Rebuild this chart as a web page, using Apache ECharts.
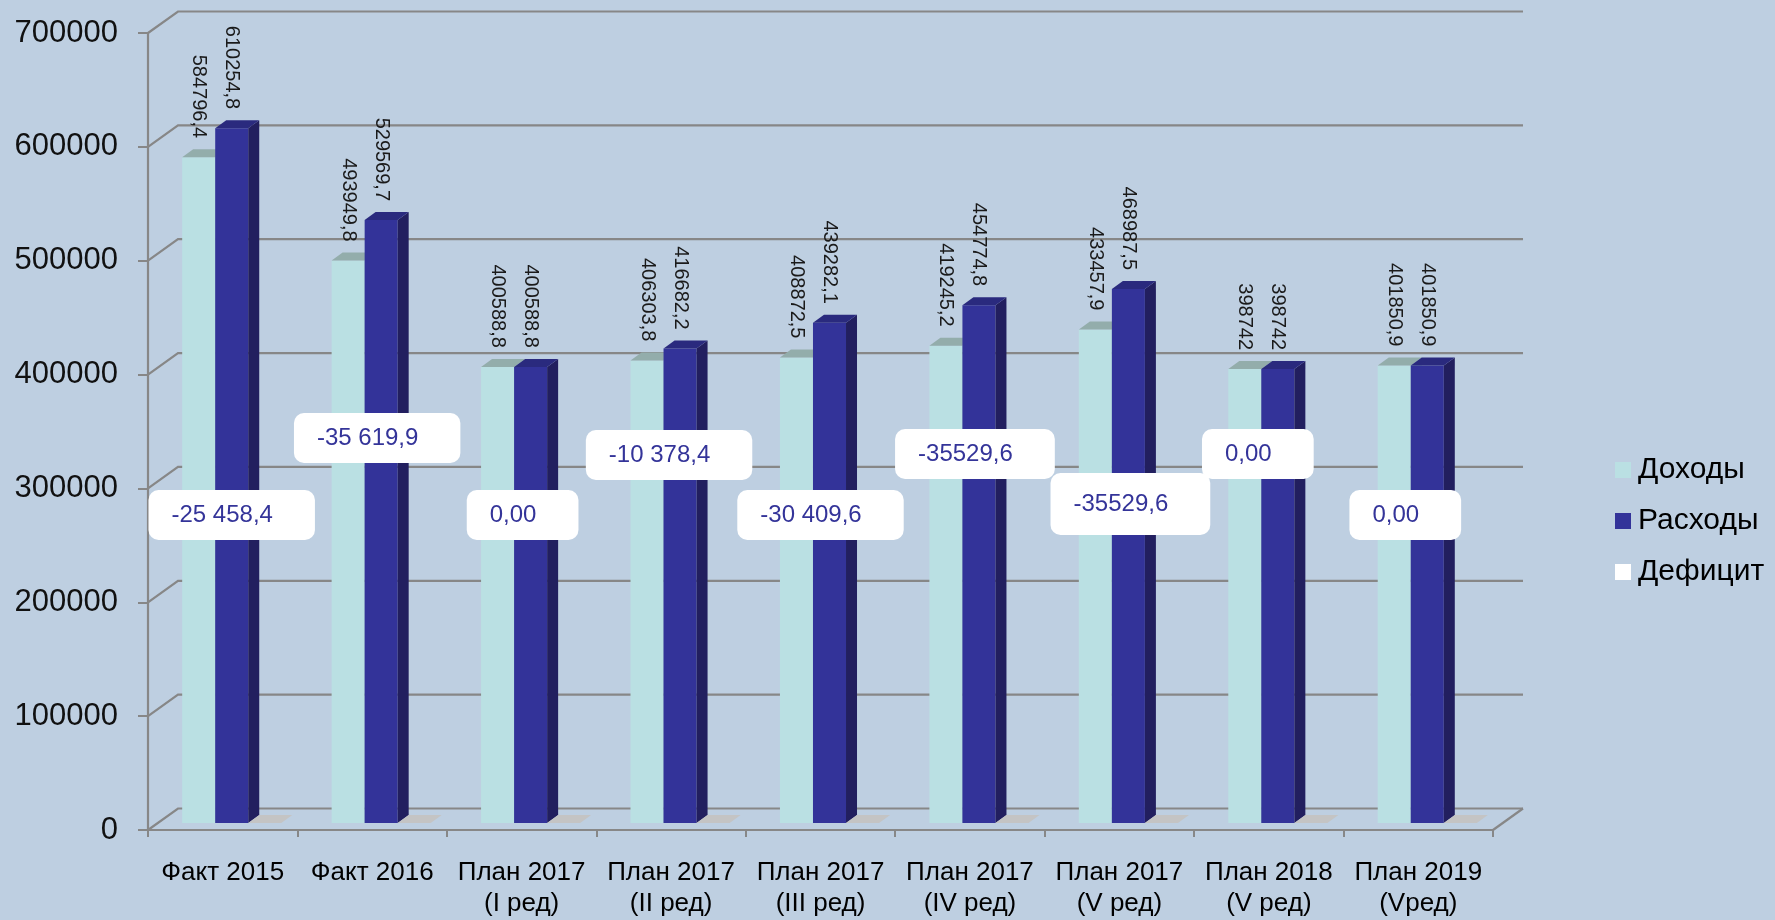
<!DOCTYPE html>
<html><head><meta charset="utf-8">
<script src="https://cdn.jsdelivr.net/npm/echarts/dist/echarts.min.js"></script>
<style>html,body{margin:0;padding:0;background:#becfe1;}#chart{width:1775px;height:920px;}</style>
</head><body><div id="chart"></div>
<script>
// ---- data ----
const categories = ['Факт 2015', 'Факт 2016', 'План 2017\n(I ред)', 'План 2017\n(II ред)', 'План 2017\n(III ред)',
  'План 2017\n(IV ред)', 'План 2017\n(V ред)', 'План 2018\n(V ред)', 'План 2019\n(Vред)'];
const incomes  = [584796.4, 493949.8, 400588.8, 406303.8, 408872.5, 419245.2, 433457.9, 398742, 401850.9];
const expenses = [610254.8, 529569.7, 400588.8, 416682.2, 439282.1, 454774.8, 468987.5, 398742, 401850.9];
const deficit  = [-25458.4, -35619.9, 0, -10378.4, -30409.6, -35529.6, -35529.6, 0, 0];
const deficitText = ['-25 458,4', '-35 619,9', '0,00', '-10 378,4', '-30 409,6', '-35529,6', '-35529,6', '0,00', '0,00'];
const yTicks = [0, 100000, 200000, 300000, 400000, 500000, 600000, 700000];
const seriesNames = ['Доходы', 'Расходы', 'Дефицит'];

// ---- layout / style ----
const FONT = '"Liberation Sans", Arial, sans-serif';
const WALL = [30, -21.5];      // depth of the back wall
const SHIFT = [9, -7];         // bar front face offset from front plane
const BD = [11, -8];           // bar depth
const BAR_FRAC = 0.221;        // bar width as part of category band
const boxDx = [9, 5, 1, -2, 0, 5, 11, -11, -13];
const boxDy = [-315, -392, -315, -375, -315, -376, -326, -376, -315];
const boxH  = [50, 50, 50, 50, 50, 50, 62, 50, 50];
const GRID_COLOR = '#878787';

function fmt(v) { return String(v).replace('.', ','); }

function wallItem(params, api) {
  const v = api.value(1);
  const p = api.coord([0, v]);
  const band = api.size([1, 0])[0];
  const left = p[0] - band / 2;
  const right = api.coord([categories.length - 1, v])[0] + band / 2;
  const y = p[1];
  const children = [{
    type: 'polyline',
    shape: { points: [[left, y], [left + WALL[0], y + WALL[1]], [right + WALL[0], y + WALL[1]]] },
    style: { stroke: GRID_COLOR, lineWidth: 2.2, fill: null }
  }];
  if (v === 0) {
    children.push({ type: 'line', shape: { x1: right, y1: y, x2: right + WALL[0], y2: y + WALL[1] },
      style: { stroke: GRID_COLOR, lineWidth: 2.2 } });
  }
  return { type: 'group', children };
}

function barSeries(name, values, slot, c) {
  return {
    type: 'custom', name, z: 3, clip: false,
    itemStyle: { color: c.legend },
    data: values.map((v, i) => [i, v]),
    renderItem(params, api) {
      const i = api.value(0), v = api.value(1);
      const top = api.coord([i, v]);
      const base = api.coord([i, 0]);
      const band = api.size([1, 0])[0];
      const w = band * BAR_FRAC;
      const x0 = top[0] + slot * w - w / 2 + SHIFT[0];
      const x1 = x0 + w;
      const yt = top[1] + SHIFT[1];
      const yb = base[1] + SHIFT[1];
      return {
        type: 'group',
        children: [
          { type: 'rect', shape: { x: x0, y: yt, width: w, height: yb - yt }, style: { fill: c.front } },
          { type: 'polygon', shape: { points: [[x1, yt], [x1 + BD[0], yt + BD[1]], [x1 + BD[0], yb + BD[1]], [x1, yb]] }, style: { fill: c.side } },
          { type: 'polygon', shape: { points: [[x0, yt], [x1, yt], [x1 + BD[0], yt + BD[1]], [x0 + BD[0], yt + BD[1]]] }, style: { fill: c.top } },
          { type: 'text', x: (x0 + x1) / 2, y: yt + BD[1] - 11, rotation: -Math.PI / 2,
            style: { text: fmt(v), align: 'right', verticalAlign: 'middle', fill: '#1a1a1a', font: '20px ' + FONT } }
        ]
      };
    }
  };
}

const deficitSeries = {
  type: 'custom', name: 'Дефицит', z: 5, clip: false,
  itemStyle: { color: '#ffffff' },
  data: deficit.map((v, i) => [i, v]),
  renderItem(params, api) {
    const i = api.value(0);
    const base = api.coord([i, 0]);
    const band = api.size([1, 0])[0];
    const w = band * BAR_FRAC;
    const x0 = base[0] + w - w / 2 + SHIFT[0];
    const x1 = x0 + w;
    const yb = base[1] + SHIFT[1];
    const pv = (boxH[i] - 24) / 2;
    return {
      type: 'group',
      children: [
        { type: 'polygon', z2: 0, shape: { points: [[x0, yb], [x1, yb], [x1 + BD[0], yb + BD[1]], [x0 + BD[0], yb + BD[1]]] }, style: { fill: '#c4c4c4' } },
        { type: 'text', z2: 10, x: base[0] + boxDx[i], y: base[1] + boxDy[i],
          style: { text: deficitText[i], align: 'center', verticalAlign: 'middle', fill: '#343499',
            font: '24px ' + FONT, backgroundColor: '#ffffff', borderRadius: 10, padding: [pv, 42, pv, 23] } }
      ]
    };
  }
};

const chart = echarts.init(document.getElementById('chart'), null, { renderer: 'canvas' });
chart.setOption({
  animation: false,
  backgroundColor: '#becfe1',
  grid: { left: 148, right: 282, top: 33, bottom: 90 },
  legend: {
    data: seriesNames, orient: 'vertical', left: 1610, top: 450, itemWidth: 16, itemHeight: 16, itemGap: 21,
    icon: 'rect', selectedMode: false,
    textStyle: { fontSize: 30, color: '#000', fontFamily: FONT, padding: [0, 0, 0, 2] }
  },
  xAxis: {
    type: 'category', data: categories,
    axisLine: { lineStyle: { color: GRID_COLOR, width: 2.2 } },
    axisTick: { show: true, length: 7, lineStyle: { color: GRID_COLOR, width: 2 } },
    axisLabel: { interval: 0, fontSize: 26, lineHeight: 31, color: '#000', fontFamily: FONT, margin: 27 },
    splitLine: { show: false }
  },
  yAxis: {
    type: 'value', min: 0, max: 700000, interval: 100000,
    axisLine: { show: true, lineStyle: { color: GRID_COLOR, width: 2.2 } },
    axisTick: { show: true, length: 10, lineStyle: { color: GRID_COLOR, width: 2 } },
    axisLabel: { fontSize: 31, color: '#111', fontFamily: FONT, margin: 30, formatter: v => String(v) },
    splitLine: { show: false }
  },
  series: [
    { type: 'custom', name: 'wall', z: 1, clip: false, silent: true, data: yTicks.map(v => [0, v]), renderItem: wallItem },
    barSeries('Доходы', incomes, -1, { front: '#bae0e3', top: '#93adab', side: '#9cc3c6', legend: '#bae0e3' }),
    barSeries('Расходы', expenses, 0, { front: '#333399', top: '#2a2a7e', side: '#221f5f', legend: '#333399' }),
    deficitSeries
  ]
});
</script></body></html>
